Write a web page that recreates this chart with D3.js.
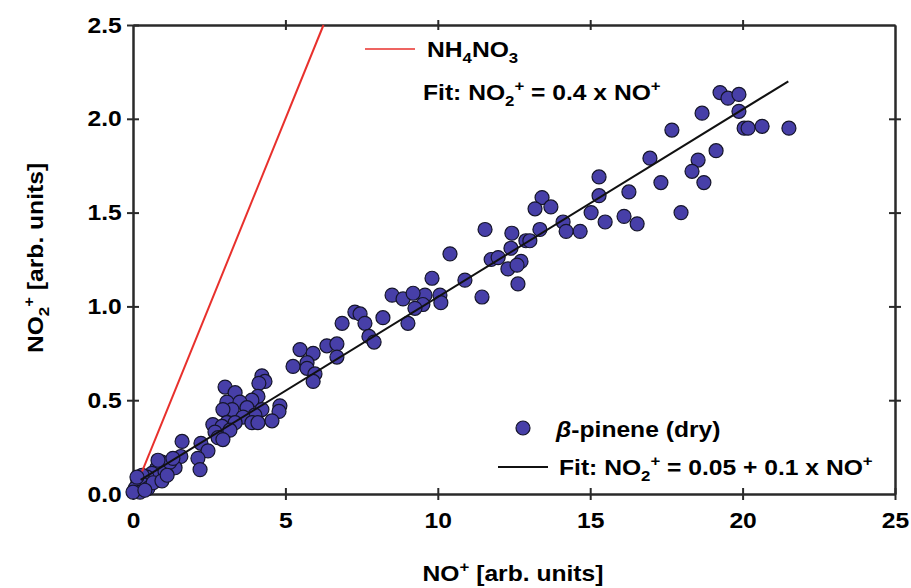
<!DOCTYPE html>
<html>
<head>
<meta charset="utf-8">
<script src="https://cdn.jsdelivr.net/npm/d3@7"></script>
<style>
body { margin: 0; background: #fff; }
svg text { font-family: "Liberation Sans", Arial, sans-serif; font-weight: bold; fill: #000; }
</style>
</head>
<body>
<svg id="chart"></svg>
<script>
// NO2+ vs NO+ signal, beta-pinene (dry) with linear fit, NH4NO3 reference line

const xTicks = [0, 5, 10, 15, 20, 25];
const yTicks = [0, 0.5, 1.0, 1.5, 2.0, 2.5];

// beta-pinene (dry) points
const noPlus = [
    19.26, 19.52, 19.88, 18.67, 19.88, 17.68, 20.05, 20.18, 20.64, 21.52, 19.13, 16.96, 18.54, 15.29, 18.34, 18.73, 17.32, 15.29, 16.27, 15.03, 17.98, 15.49, 16.11, 16.54, 14.67,
    13.42, 13.19, 13.71, 11.55, 12.43, 13.35, 14.11, 14.21, 12.89, 13.02, 10.40, 11.75, 11.98, 12.40, 12.73, 12.30, 12.60, 9.81, 10.89, 12.63, 9.58, 10.07, 11.45, 9.51,
    8.50, 8.86, 9.19, 10.10, 9.25, 7.28, 7.45, 8.20, 6.86, 7.61, 9.02, 7.74, 7.91, 6.36, 6.69, 6.69, 5.48, 5.91, 5.71, 5.25, 5.71, 5.97, 5.91,
    4.23, 4.33, 4.13, 3.02, 3.35, 4.10, 3.90, 3.08, 3.51, 3.25, 3.74, 2.95, 4.82, 4.79, 4.23, 4.00, 3.61, 4.56, 3.90, 4.10, 3.08, 3.35, 2.62, 2.92, 2.69, 3.18, 2.79, 2.95,
    1.61, 2.23, 2.46, 2.13, 2.20, 1.57, 1.38,
    0.95, 0.79, 0.62, 1.05, 0.46, 0.30, 0.16, 0.33, 0.07, 0.23, 0.00, 0.49, 0.66, 0.95, 1.21, 0.82, 1.31, 1.12, 0.13, 0.39
];
const no2Plus = [
    2.14, 2.11, 2.13, 2.03, 2.04, 1.94, 1.95, 1.95, 1.96, 1.95, 1.83, 1.79, 1.78, 1.69, 1.72, 1.66, 1.66, 1.59, 1.61, 1.50, 1.50, 1.45, 1.48, 1.44, 1.40,
    1.58, 1.52, 1.53, 1.41, 1.39, 1.41, 1.45, 1.40, 1.35, 1.35, 1.28, 1.25, 1.26, 1.31, 1.24, 1.20, 1.22, 1.15, 1.14, 1.12, 1.06, 1.06, 1.05, 1.01,
    1.06, 1.04, 1.07, 1.02, 0.99, 0.97, 0.96, 0.94, 0.91, 0.91, 0.91, 0.84, 0.81, 0.79, 0.80, 0.73, 0.77, 0.75, 0.70, 0.68, 0.67, 0.64, 0.60,
    0.63, 0.60, 0.59, 0.57, 0.54, 0.52, 0.50, 0.49, 0.49, 0.45, 0.46, 0.45, 0.47, 0.44, 0.45, 0.42, 0.41, 0.39, 0.38, 0.38, 0.38, 0.38, 0.37, 0.36, 0.33, 0.34, 0.30, 0.29,
    0.28, 0.27, 0.23, 0.19, 0.13, 0.20, 0.14,
    0.17, 0.14, 0.11, 0.12, 0.09, 0.10, 0.06, 0.05, 0.03, 0.01, 0.01, 0.03, 0.06, 0.07, 0.17, 0.18, 0.19, 0.10, 0.09, 0.02
];

// fit lines
const fitIntercept = 0.05;
const fitSlope = 0.1;
const fitRange = [0.25, 21.5];
const nh4Slope = 0.4;
const nh4Range = [0.3, 6.25];

const width = 911;
const height = 588;
const stretch = 1.12; // text in the picture is a bit wider than the font

const svg = d3.select("#chart")
    .attr("width", width)
    .attr("height", height);

const x = d3.scaleLinear().domain([0, 25]).range([133, 895]);
const y = d3.scaleLinear().domain([0, 2.5]).range([494, 25]);

function styleAxis(g) {
    g.select(".domain").attr("stroke", "#2a2a2a").attr("stroke-width", 2);
    g.selectAll(".tick line").attr("stroke", "#2a2a2a").attr("stroke-width", 2);
    g.selectAll(".tick text")
        .attr("fill", "#000")
        .style("font-size", "22px")
        .attr("transform", `scale(${stretch},1)`);
}

// bottom axis (labels) + inner ticks
svg.append("g")
    .attr("transform", `translate(0,${y(0)})`)
    .call(d3.axisBottom(x).tickValues(xTicks).tickSize(6).tickSizeOuter(0).tickPadding(12).tickFormat(d3.format("d")))
    .call(styleAxis);
svg.append("g")
    .attr("transform", `translate(0,${y(0)})`)
    .call(d3.axisTop(x).tickValues(xTicks).tickSize(6).tickSizeOuter(0).tickFormat(""))
    .call(styleAxis);

// top frame
svg.append("g")
    .attr("transform", `translate(0,${y(2.5)})`)
    .call(d3.axisTop(x).tickValues(xTicks.slice(1, -1)).tickSize(5).tickSizeOuter(0).tickFormat(""))
    .call(styleAxis);
svg.append("g")
    .attr("transform", `translate(0,${y(2.5)})`)
    .call(d3.axisBottom(x).tickValues(xTicks.slice(1, -1)).tickSize(5).tickSizeOuter(0).tickFormat(""))
    .call(styleAxis);

// left axis (labels) + inner ticks
svg.append("g")
    .attr("transform", `translate(${x(0)},0)`)
    .call(d3.axisLeft(y).tickValues(yTicks).tickSize(6).tickSizeOuter(0).tickPadding(4).tickFormat(d3.format(".1f")))
    .call(styleAxis);
svg.append("g")
    .attr("transform", `translate(${x(0)},0)`)
    .call(d3.axisRight(y).tickValues(yTicks).tickSize(6).tickSizeOuter(0).tickFormat(""))
    .call(styleAxis);

// right frame
svg.append("g")
    .attr("transform", `translate(${x(25)},0)`)
    .call(d3.axisRight(y).tickValues(yTicks.slice(1, -1)).tickSize(6).tickSizeOuter(0).tickFormat(""))
    .call(styleAxis);
svg.append("g")
    .attr("transform", `translate(${x(25)},0)`)
    .call(d3.axisLeft(y).tickValues(yTicks.slice(1, -1)).tickSize(6).tickSizeOuter(0).tickFormat(""))
    .call(styleAxis);

// points
const points = noPlus.map((v, i) => ({ x: v, y: no2Plus[i] }));
svg.append("g")
    .selectAll("circle")
    .data(points)
    .enter().append("circle")
    .attr("cx", d => x(d.x))
    .attr("cy", d => y(d.y))
    .attr("r", 7)
    .attr("fill", "#473fa8")
    .attr("stroke", "#15152a")
    .attr("stroke-width", 1.2);

// NH4NO3 line
svg.append("line")
    .attr("x1", x(nh4Range[0])).attr("y1", y(nh4Slope * nh4Range[0]))
    .attr("x2", x(nh4Range[1])).attr("y2", y(nh4Slope * nh4Range[1]))
    .attr("stroke", "#e8302c")
    .attr("stroke-width", 2);

// beta-pinene fit
svg.append("line")
    .attr("x1", x(fitRange[0])).attr("y1", y(fitIntercept + fitSlope * fitRange[0]))
    .attr("x2", x(fitRange[1])).attr("y2", y(fitIntercept + fitSlope * fitRange[1]))
    .attr("stroke", "#111")
    .attr("stroke-width", 2);

// text with sub/superscripts
function richText(px, py, parts, opts = {}) {
    const t = svg.append("text")
        .attr("transform", `translate(${px},${py})${opts.rotate ? " rotate(-90)" : ""} scale(${stretch},1)`)
        .attr("text-anchor", opts.anchor || "start")
        .style("font-size", (opts.size || 22) + "px");
    let shift = 0;
    parts.forEach(p => {
        let target = 0;
        if (p.sub) target = 6;
        if (p.sup) target = -9;
        const s = t.append("tspan")
            .attr("dy", target - shift)
            .text(p.t);
        if (p.sub || p.sup) s.style("font-size", "15px");
        if (p.italic) s.style("font-style", "italic");
        shift = target;
    });
    return t;
}

// top legend
svg.append("line")
    .attr("x1", 365).attr("x2", 415).attr("y1", 49).attr("y2", 49)
    .attr("stroke", "#e8302c").attr("stroke-width", 1.5);
richText(427, 57, [{ t: "NH" }, { t: "4", sub: true }, { t: "NO" }, { t: "3", sub: true }]);
richText(423, 100, [{ t: "Fit: NO" }, { t: "2", sub: true }, { t: "+", sup: true }, { t: " = 0.4 x NO" }, { t: "+", sup: true }]);

// bottom legend
svg.append("circle")
    .attr("cx", 523).attr("cy", 428).attr("r", 7)
    .attr("fill", "#473fa8").attr("stroke", "#15152a").attr("stroke-width", 1.2);
richText(556, 437, [{ t: "\u03b2", italic: true }, { t: "-pinene (dry)" }]);
svg.append("line")
    .attr("x1", 498).attr("x2", 548).attr("y1", 467).attr("y2", 467)
    .attr("stroke", "#111").attr("stroke-width", 2);
richText(559, 475, [{ t: "Fit: NO" }, { t: "2", sub: true }, { t: "+", sup: true }, { t: " = 0.05 + 0.1 x NO" }, { t: "+", sup: true }]);

// axis titles
richText(513, 581, [{ t: "NO" }, { t: "+", sup: true }, { t: " [arb. units]" }], { anchor: "middle" });
richText(43, 258, [{ t: "NO" }, { t: "2", sub: true }, { t: "+", sup: true }, { t: " [arb. units]" }], { anchor: "middle", rotate: true });
</script>
</body>
</html>
